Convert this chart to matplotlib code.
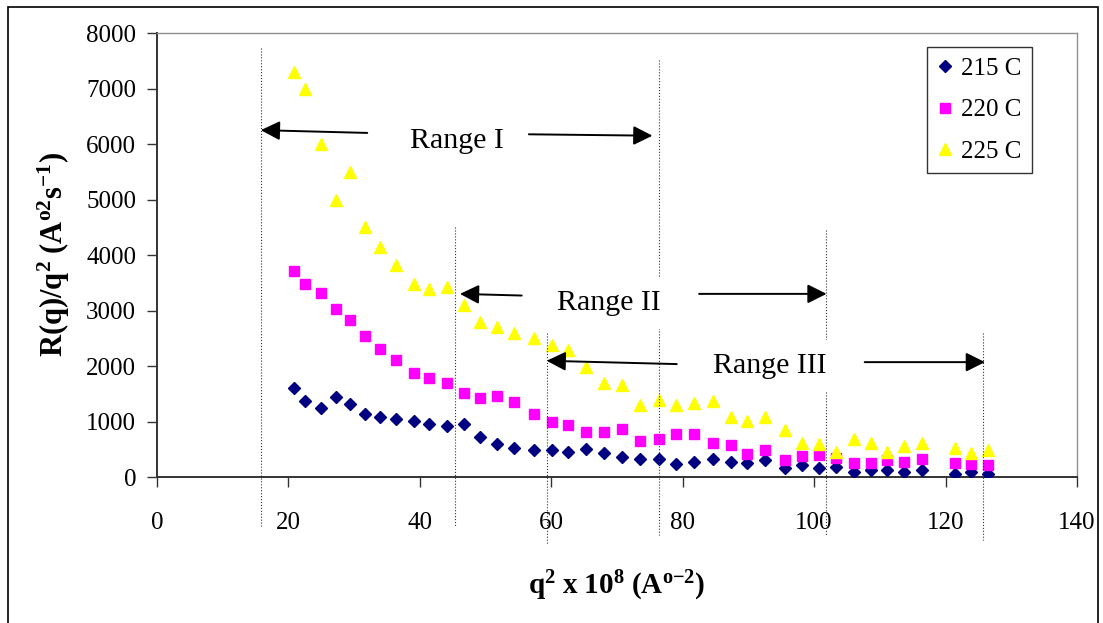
import matplotlib
matplotlib.use('Agg')
import matplotlib.pyplot as plt
from matplotlib.patches import Rectangle

plt.rcParams['font.family'] = ['Liberation Serif', 'DejaVu Serif']
plt.rcParams['mathtext.fontset'] = 'custom'
plt.rcParams['mathtext.rm'] = 'Liberation Serif'
plt.rcParams['mathtext.bf'] = 'Liberation Serif:bold'
plt.rcParams['mathtext.it'] = 'Liberation Serif:italic'

# q^2 x 10^8 (A^-2), shared by the three temperatures
q2 = [20.8, 22.6, 25.0, 27.2, 29.3, 31.6, 34.0, 36.4, 39.1, 41.4,
      44.1, 46.7, 49.2, 51.8, 54.4, 57.4, 60.1, 62.6, 65.3, 68.1,
      70.8, 73.5, 76.4, 79.0, 81.7, 84.6, 87.3, 89.8, 92.5, 95.5,
      98.1, 100.7, 103.4, 106.1, 108.7, 111.1, 113.7, 116.4, 121.4, 123.8,
      126.5]

# R(q)/q^2
r215 = [1598, 1375, 1238, 1436, 1310, 1141, 1076, 1045, 1015, 950,
        915, 952, 715, 595, 529, 487, 487, 456, 499, 427,
        355, 319, 319, 234, 264, 324, 264, 246, 300, 168,
        210, 156, 174, 96, 126, 126, 90, 126, 54, 96,
        48]
r220 = [3712, 3478, 3322, 3027, 2829, 2535, 2307, 2114, 1880, 1784,
        1688, 1522, 1429, 1465, 1357, 1130, 997, 937, 805, 805,
        865, 649, 679, 775, 775, 607, 577, 414, 480, 306,
        378, 396, 342, 246, 246, 306, 276, 318, 246, 234,
        216]
r225 = [7300, 7000, 6000, 5000, 5500, 4500, 4150, 3815, 3483, 3393,
        3424, 3100, 2800, 2697, 2600, 2499, 2379, 2289, 1976, 1688,
        1658, 1297, 1387, 1297, 1339, 1369, 1075, 1009, 1075, 847,
        618, 589, 456, 679, 618, 456, 559, 618, 517, 427,
        487]

x_ticks = [0, 20, 40, 60, 80, 100, 120, 140]
y_ticks = [0, 1000, 2000, 3000, 4000, 5000, 6000, 7000, 8000]

# dotted boundaries: (x, top, bottom)
bounds = [(15.8, 7725, -880), (45.4, 4505, -900), (76.4, 7514, -1045),
          (59.3, 2595, -1225), (101.8, 4450, -1045), (125.7, 2595, -1135)]

# range labels: text, text position, (tail, head) of each arrow
ranges = [
    ('Range I', (45.7, 6050), [((32.0, 6200), (15.8, 6250)), ((56.6, 6175), (75.4, 6150))]),
    ('Range II', (68.8, 3130), [((55.5, 3270), (46.1, 3300)), ((82.5, 3300), (101.9, 3300))]),
    ('Range III', (93.3, 2000), [((79.1, 2035), (59.3, 2095)), ((107.7, 2070), (126.0, 2070))]),
]

fig = plt.figure(figsize=(11.03, 6.23), dpi=100)
ax = fig.add_axes([0.1423, 0.2343, 0.8341, 0.7127])

ax.plot(q2, r215, ls='none', marker='D', ms=6.0, color='#000080', label='215 C', zorder=3)
ax.plot(q2, r220, ls='none', marker='s', ms=7.2, color='#FF00FF', label='220 C', zorder=4)
ax.plot(q2, r225, ls='none', marker='^', ms=8.2, color='#FFFF00', label='225 C', zorder=5)

for x, top, bot in bounds:
    ax.plot([x, x], [top, bot], ls=':', lw=0.8, color='#333333', clip_on=False, zorder=6)

for label, pos, arrows in ranges:
    ax.text(pos[0], pos[1], label, fontsize=21.5, ha='center', va='center', zorder=7,
            bbox=dict(facecolor='white', edgecolor='none', pad=9))
    for tail, head in arrows:
        ax.annotate('', xy=head, xytext=tail, zorder=8, annotation_clip=False,
                    arrowprops=dict(arrowstyle='-|>', mutation_scale=29, lw=1.4,
                                    color='black', shrinkA=0, shrinkB=0))

ax.set_xlim(0, 140)
ax.set_ylim(0, 8000)
ax.set_xticks(x_ticks)
ax.set_yticks(y_ticks)
ax.tick_params(axis='both', direction='out', length=7, width=1, colors='#333333',
               labelsize=18, labelcolor='black')
ax.tick_params(axis='x', pad=18)
ax.tick_params(axis='y', pad=8)

for side in ['left', 'bottom']:
    ax.spines[side].set_color('#333333')
    ax.spines[side].set_linewidth(1.4)
for side in ['top', 'right']:
    ax.spines[side].set_color('#909090')
    ax.spines[side].set_linewidth(1.0)

ax.set_xlabel(r'$\mathbf{q^2\ x\ 10^8\ (A^{o{-}2})}$', fontsize=21, labelpad=25)
ax.set_ylabel(r'$\mathbf{R(q)/q^2\ (A^{o2}s^{{-}1})}$', fontsize=22, labelpad=10)

leg = ax.legend(loc='upper right', bbox_to_anchor=(0.951, 0.968), borderaxespad=0,
                fontsize=18, frameon=True, fancybox=False, handlelength=0.6,
                handletextpad=0.35, labelspacing=0.75, borderpad=0.42)
leg.get_frame().set_edgecolor('black')
leg.get_frame().set_linewidth(1.0)

# outer chart border
fig.patches.append(Rectangle((8 / 1103, -0.1), 1090 / 1103, 0.9888 + 0.1,
                             transform=fig.transFigure, fill=False,
                             edgecolor='black', lw=1.2, zorder=0))

plt.savefig('out.png', dpi=100)
